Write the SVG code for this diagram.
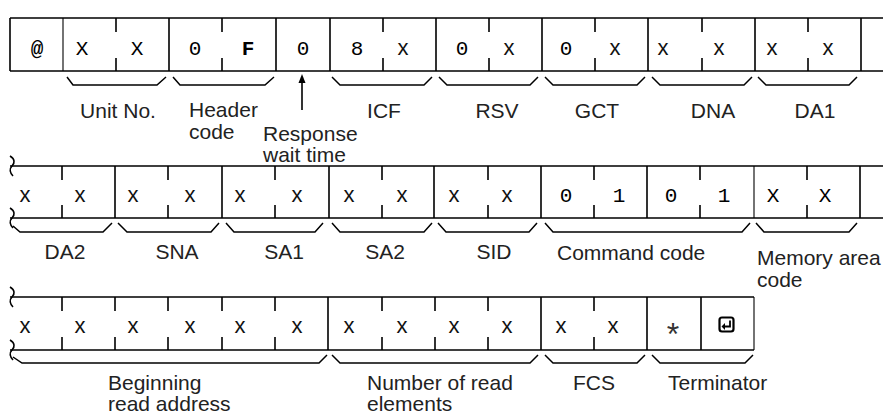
<svg xmlns="http://www.w3.org/2000/svg" width="883" height="414" viewBox="0 0 883 414">
<style>
.ln{stroke:#000;stroke-width:1.6;fill:none}
.thin{stroke:#000;stroke-width:1.1;fill:none}
.br{stroke:#000;stroke-width:1.5;fill:none}
.lbl{font-family:"Liberation Sans",Arial,sans-serif;font-size:21px;fill:#222}
.c{text-anchor:middle}
.mono{font-family:"Liberation Mono","Courier New",monospace;font-size:21px;fill:#000;text-anchor:middle}
.sx{font-family:"Liberation Sans",Arial,sans-serif;font-size:22px;fill:#111;text-anchor:middle}
</style>
<defs>
<path id="brk" d="M -1 -10 C 4 -7 4 -3 1 0 C -2 3 -1 7 2 10" class="ln"/>
</defs>

<!-- Row 1 frame -->
<g id="row1">
<path class="ln" d="M10 18 H883 M10 71 H883"/>
<path class="ln" d="M10 18 V71 M169 18 V71 M276 18 V71 M330 18 V71 M436 18 V71 M542 18 V71 M648 18 V71 M755 18 V71 M861 18 V71"/>
<path class="thin" d="M63 18 V71"/>
<path class="ln" d="M116 18 V32 M116 58 V71 M222 18 V32 M222 58 V71 M383 18 V32 M383 58 V71 M489 18 V32 M489 58 V71 M595 18 V32 M595 58 V71 M702 18 V32 M702 58 V71 M808 18 V32 M808 58 V71"/>
</g>
<g id="hdr-at"><text class="mono" x="37" y="55" font-weight="bold" font-size="19">@</text></g>
<g id="unit-no">
<text class="mono" x="82" y="55">X</text><text class="mono" x="137" y="55">X</text>
<path class="br" d="M67 77 L73 85 L157 85 L166 77"/>
<text class="lbl c" x="118" y="118">Unit No.</text>
</g>
<g id="header-code">
<text class="mono" x="195" y="55">0</text><text class="mono" x="248" y="55" font-weight="bold">F</text>
<path class="br" d="M173 77 L180 85 L265 85 L274 77"/>
<text class="lbl" x="189" y="117">Header</text><text class="lbl" x="189" y="139">code</text>
</g>
<g id="response-wait">
<text class="mono" x="303" y="55">0</text>
<text class="lbl" x="263" y="141">Response</text><text class="lbl" x="263" y="162">wait time</text>
</g>
<g id="icf">
<text class="mono" x="357" y="55">8</text><text class="sx" x="403" y="55">x</text>
<path class="br" d="M332 77 L340 85 L424 85 L432 77"/>
<text class="lbl c" x="384" y="118">ICF</text>
</g>
<g id="rsv">
<text class="mono" x="462" y="55">0</text><text class="sx" x="509" y="55">x</text>
<path class="br" d="M439 77 L447 85 L530 85 L538 77"/>
<text class="lbl c" x="497" y="118">RSV</text>
</g>
<g id="gct">
<text class="mono" x="566" y="55">0</text><text class="sx" x="615" y="55">x</text>
<path class="br" d="M545 77 L553 85 L637 85 L645 77"/>
<text class="lbl c" x="597" y="118">GCT</text>
</g>
<g id="dna">
<text class="sx" x="663" y="55">x</text><text class="sx" x="719" y="55">x</text>
<path class="br" d="M652 77 L660 85 L744 85 L752 77"/>
<text class="lbl c" x="713" y="118">DNA</text>
</g>
<g id="da1">
<text class="sx" x="772" y="55">x</text><text class="sx" x="828" y="55">x</text>
<path class="br" d="M758 77 L766 85 L849 85 L857 77"/>
<text class="lbl c" x="815" y="118">DA1</text>
</g>

<!-- Row 2 frame -->
<g id="row2">
<path class="ln" d="M10 166 H883 M10 218 H883"/>
<use href="#brk" x="11" y="166"/><use href="#brk" x="11" y="218"/>
<path class="ln" d="M115 166 V218 M222 166 V218 M329 166 V218 M434 166 V218 M541 166 V218 M647 166 V218 M860 166 V218"/>
<path class="thin" d="M754 166 V218"/>
<path class="ln" d="M62 166 V180 M62 205 V218 M168 166 V180 M168 205 V218 M275 166 V180 M275 205 V218 M382 166 V180 M382 205 V218 M488 166 V180 M488 205 V218 M594 166 V180 M594 205 V218 M700 166 V180 M700 205 V218 M807 166 V180 M807 205 V218"/>
</g>
<g id="da2">
<text class="sx" x="25" y="202">x</text><text class="sx" x="80" y="202">x</text>
<path class="br" d="M13 226 L20 232 L103 232 L112 223"/>
<text class="lbl c" x="65" y="259">DA2</text>
</g>
<g id="sna">
<text class="sx" x="133" y="202">x</text><text class="sx" x="190" y="202">x</text>
<path class="br" d="M118 223 L127 232 L211 232 L219 223"/>
<text class="lbl c" x="177" y="259">SNA</text>
</g>
<g id="sa1">
<text class="sx" x="240" y="202">x</text><text class="sx" x="297" y="202">x</text>
<path class="br" d="M226 223 L234 232 L315 232 L323 223"/>
<text class="lbl c" x="284" y="259">SA1</text>
</g>
<g id="sa2">
<text class="sx" x="349" y="202">x</text><text class="sx" x="402" y="202">x</text>
<path class="br" d="M332 223 L340 232 L424 232 L432 223"/>
<text class="lbl c" x="385" y="259">SA2</text>
</g>
<g id="sid">
<text class="sx" x="454" y="202">x</text><text class="sx" x="507" y="202">x</text>
<path class="br" d="M438 223 L446 232 L529 232 L537 223"/>
<text class="lbl c" x="494" y="259">SID</text>
</g>
<g id="command-code">
<text class="mono" x="566" y="202">0</text><text class="mono" x="619" y="202">1</text>
<text class="mono" x="671" y="202">0</text><text class="mono" x="724" y="202">1</text>
<path class="br" d="M545 223 L553 232 L742 232 L750 223"/>
<text class="lbl" x="557" y="260">Command code</text>
</g>
<g id="memory-area-code">
<text class="mono" x="773" y="202">X</text><text class="mono" x="825" y="202">X</text>
<path class="br" d="M756 223 L764 232 L849 232 L857 223"/>
<text class="lbl" x="757" y="265">Memory area</text><text class="lbl" x="757" y="287">code</text>
</g>

<!-- Row 3 frame -->
<g id="row3">
<path class="ln" d="M10 297 H754 M10 350 H754"/>
<use href="#brk" x="11" y="297"/><use href="#brk" x="11" y="350"/>
<path class="ln" d="M328 297 V350 M541 297 V350 M647 297 V350 M701 297 V350"/>
<path class="thin" d="M754 297 V350"/>
<path class="ln" d="M62 297 V311 M62 337 V350 M115 297 V311 M115 337 V350 M168 297 V311 M168 337 V350 M222 297 V311 M222 337 V350 M275 297 V311 M275 337 V350 M382 297 V311 M382 337 V350 M435 297 V311 M435 337 V350 M488 297 V311 M488 337 V350 M594 297 V311 M594 337 V350"/>
</g>
<g id="beginning-read-address">
<text class="sx" x="25" y="333">x</text><text class="sx" x="80" y="333">x</text><text class="sx" x="133" y="333">x</text>
<text class="sx" x="190" y="333">x</text><text class="sx" x="240" y="333">x</text><text class="sx" x="297" y="333">x</text>
<path class="br" d="M13 357 L22 363 L319 363 L327 355"/>
<text class="lbl" x="108" y="390">Beginning</text><text class="lbl" x="108" y="411">read address</text>
</g>
<g id="number-of-read-elements">
<text class="sx" x="349" y="333">x</text><text class="sx" x="402" y="333">x</text>
<text class="sx" x="454" y="333">x</text><text class="sx" x="507" y="333">x</text>
<path class="br" d="M332 355 L340 363 L530 363 L538 355"/>
<text class="lbl" x="367" y="390">Number of read</text><text class="lbl" x="367" y="411">elements</text>
</g>
<g id="fcs">
<text class="sx" x="561" y="333">x</text><text class="sx" x="613" y="333">x</text>
<path class="br" d="M545 355 L553 363 L637 363 L645 355"/>
<text class="lbl c" x="594" y="390">FCS</text>
</g>
<g id="terminator">
<text x="673" y="345" font-family="Liberation Sans, Arial, sans-serif" font-size="32" fill="#333" text-anchor="middle">*</text>
<rect x="719.5" y="317.5" width="14" height="14" rx="2.5" fill="none" stroke="#000" stroke-width="2.2"/>
<path d="M730 320.5 V326.5 H724.5" fill="none" stroke="#000" stroke-width="1.8"/>
<path d="M725 323 L721.5 326.5 L725 330 Z" fill="#000"/>
<path class="br" d="M652 355 L660 363 L745 363 L753 355"/>
<text class="lbl" x="668" y="390">Terminator</text>
</g>

<g id="connectors">
<line x1="302" y1="110" x2="302" y2="80" stroke="#000" stroke-width="1.6"/>
<path d="M302 74 L298.5 83 L305.5 83 Z" fill="#000"/>
</g>
</svg>
